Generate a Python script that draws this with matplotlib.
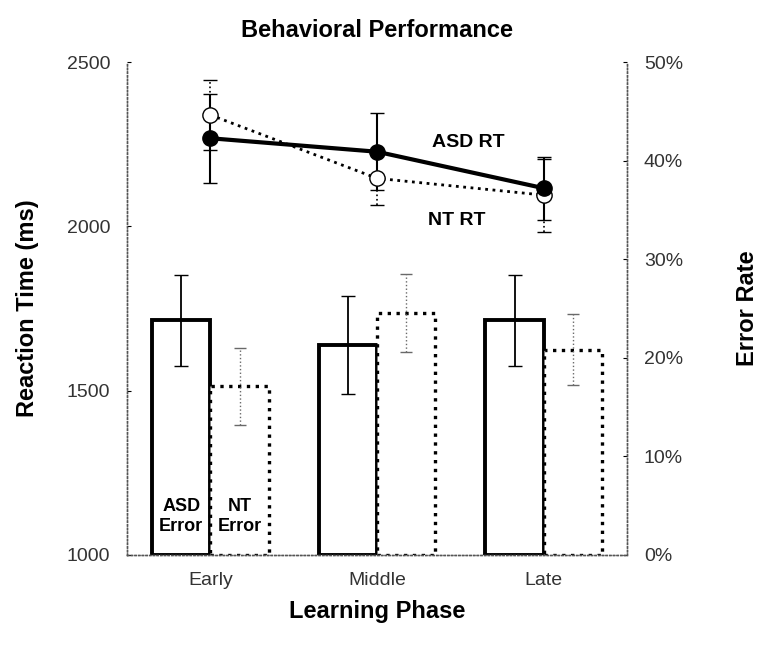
import numpy as np
import matplotlib.pyplot as plt
from matplotlib.ticker import FuncFormatter

phases = ["Early", "Middle", "Late"]

# error rates (%)
asd_err = [23.8, 21.3, 23.8]
asd_err_sd = [4.6, 5.0, 4.6]
nt_err = [17.1, 24.5, 20.8]
nt_err_sd = [3.9, 3.95, 3.6]

# reaction times (ms)
asd_rt = [2268, 2227, 2116]
asd_rt_sd = [135, 117, 96]
nt_rt = [2339, 2146, 2095]
nt_rt_sd = [106, 81, 111]

plt.rcParams['font.family'] = ['Liberation Sans', 'DejaVu Sans']

fig = plt.figure(figsize=(7.79, 6.46), dpi=100)
ax = fig.add_axes([0.163, 0.141, 0.642, 0.763])
ax2 = ax.twinx()

x = np.arange(1, len(phases) + 1)
w = 0.35

# bars on the error-rate axis
ax2.bar(x - w/2, asd_err, w, facecolor="white", edgecolor="black", linewidth=2.8, zorder=2)
ax2.bar(x + w/2, nt_err, w, facecolor="white", edgecolor="black", linewidth=2.4, linestyle=":", zorder=2)
ax2.errorbar(x - w/2, asd_err, yerr=asd_err_sd, fmt="none", ecolor="black", elinewidth=1.3, capsize=5, zorder=3)
eb = ax2.errorbar(x + w/2, nt_err, yerr=nt_err_sd, fmt="none", ecolor="dimgray", elinewidth=1.0, capsize=4, zorder=3)
for c in eb[2]:
    c.set_linestyle(":")

ax2.text(1 - w/2, 3.9, "ASD\nError", ha="center", va="center", fontsize=13, fontweight="bold", linespacing=1.3)
ax2.text(1 + w/2, 3.9, "NT\nError", ha="center", va="center", fontsize=13, fontweight="bold", linespacing=1.3)

# reaction time lines
e1 = ax.errorbar(x, nt_rt, yerr=nt_rt_sd, color="black", linestyle=":", linewidth=2, marker="o",
                 markersize=11, markerfacecolor="white", markeredgecolor="black", capsize=5, elinewidth=1.2)
e1[2][0].set_linestyle(":")
ax.errorbar(x, asd_rt, yerr=asd_rt_sd, color="black", linestyle="-", linewidth=3, marker="o",
            markersize=11, markerfacecolor="black", capsize=5, elinewidth=1.5)
ax.set_zorder(ax2.get_zorder() + 1)
ax.patch.set_visible(False)

ax.text(2.55, 2254, "ASD RT", ha="center", va="center", fontsize=14, fontweight="bold")
ax.text(2.48, 2019, "NT RT", ha="center", va="center", fontsize=14, fontweight="bold")

ax.set_xlim(0.5, 3.5)
ax.set_ylim(1000, 2500)
ax.set_yticks([1000, 1500, 2000, 2500])
ax2.set_ylim(0, 50)
ax2.set_yticks([0, 10, 20, 30, 40, 50])
ax2.yaxis.set_major_formatter(FuncFormatter(lambda v, p: "%d%%" % v))
ax.set_xticks(x)
ax.set_xticklabels(phases)

for a in (ax, ax2):
    for s in a.spines.values():
        s.set_linestyle(":")
        s.set_linewidth(1.0)
        s.set_color("#555555")
    a.tick_params(direction="in", length=3, labelsize=14, labelcolor="#333333", pad=12)
ax.spines["top"].set_visible(False)
ax2.spines["top"].set_visible(False)
ax.tick_params(axis="x", length=0, pad=12)

ax.set_ylabel("Reaction Time (ms)", fontsize=17, fontweight="bold", labelpad=20)
ax2.set_ylabel("Error Rate", fontsize=17, fontweight="bold", labelpad=38)
ax.set_xlabel("Learning Phase", fontsize=17, fontweight="bold", labelpad=8)
ax.set_title("Behavioral Performance", fontsize=17, fontweight="bold", pad=18)

fig.savefig("out.png", dpi=100)
